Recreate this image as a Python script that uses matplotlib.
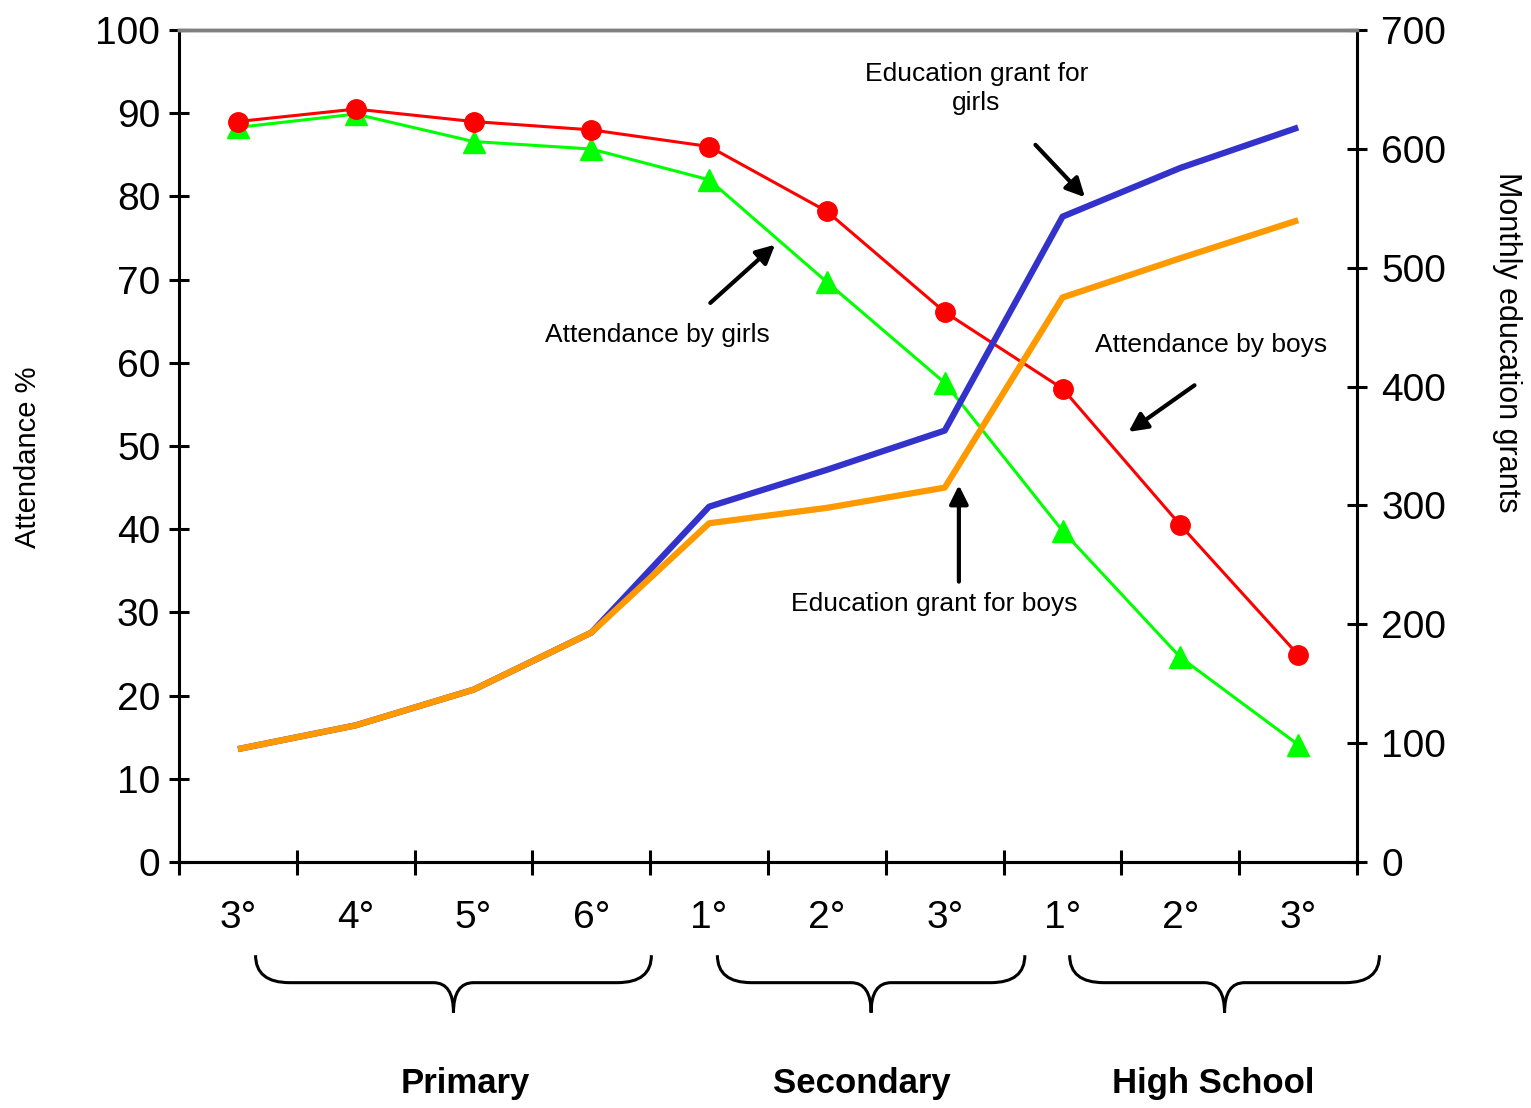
import matplotlib
matplotlib.use('Agg')
import matplotlib.pyplot as plt
from matplotlib.path import Path
from matplotlib.patches import PathPatch

plt.rcParams['font.family'] = ['Liberation Sans', 'DejaVu Sans']

# grades along the x axis and the school level they belong to
grades = ['3°', '4°', '5°', '6°', '1°', '2°', '3°', '1°', '2°', '3°']
levels = ['Primary', 'Secondary', 'High School']

# attendance (%) - left axis
boys_attendance = [89.0, 90.5, 89.0, 88.0, 86.0, 78.2, 66.1, 56.9, 40.5, 24.9]
girls_attendance = [88.3, 89.9, 86.6, 85.7, 82.0, 69.7, 57.6, 39.8, 24.6, 14.1]

# monthly education grants - right axis
girls_grant = [95, 115, 145, 193, 299, 330, 363, 543, 584, 618]
boys_grant = [95, 115, 145, 193, 285, 298, 315, 475, 508, 540]


def draw_brace(ax, x0, x1, y_top=-11.2, y_mid=-14.5, y_tip=-18.1, r=0.29, rt=0.17):
    '''Curly brace under the axis, drawn in data coordinates'''
    xc = (x0 + x1) / 2
    verts = [(x0, y_top), (x0, y_mid), (x0 + r, y_mid),
             (xc - rt, y_mid),
             (xc, y_mid), (xc, y_tip),
             (xc, y_mid), (xc + rt, y_mid),
             (x1 - r, y_mid),
             (x1, y_mid), (x1, y_top)]
    codes = [Path.MOVETO, Path.CURVE3, Path.CURVE3,
             Path.LINETO,
             Path.CURVE3, Path.CURVE3,
             Path.CURVE3, Path.CURVE3,
             Path.LINETO,
             Path.CURVE3, Path.CURVE3]
    ax.add_patch(PathPatch(Path(verts, codes), fill=False, lw=2.2,
                           edgecolor='black', clip_on=False))


fig = plt.figure(figsize=(15.31, 11.08), dpi=100)
ax = fig.add_axes([0.1169, 0.222, 0.7695, 0.7509])
ax2 = ax.twinx()

x = list(range(len(grades)))

ax.plot(x, girls_attendance, color='#00FF00', lw=2.2, marker='^', ms=16, zorder=2)
ax.plot(x, boys_attendance, color='#FF0000', lw=2.2, marker='o', ms=14, zorder=3)
ax2.plot(x, girls_grant, color='#3333CC', lw=4.5, solid_capstyle='butt')
ax2.plot(x, boys_grant, color='#FF9900', lw=4.5, solid_capstyle='butt')

ax.set_xlim(-0.5, len(grades) - 0.5)
ax.set_ylim(0, 100)
ax2.set_ylim(0, 700)

ax.set_yticks(range(0, 101, 10))
ax2.set_yticks(range(0, 701, 100))
ax.set_xticks([i - 0.5 for i in range(len(grades) + 1)])
ax.set_xticklabels([])
ax.set_xticks(x, minor=True)
ax.set_xticklabels(grades, minor=True)

ax.tick_params(axis='y', direction='inout', length=15, width=2.2, labelsize=28, pad=6)
ax2.tick_params(axis='y', direction='inout', length=15, width=2.2, labelsize=28, pad=10)
ax.tick_params(axis='x', which='major', direction='inout', length=18, width=2.2)
ax.tick_params(axis='x', which='minor', length=0, labelsize=28, pad=27)

for a in (ax, ax2):
    for side in ('left', 'right', 'bottom'):
        a.spines[side].set_linewidth(2.2)
    a.spines['top'].set_color('#808080')
    a.spines['top'].set_linewidth(2.5)
ax.spines['right'].set_visible(False)
ax2.spines['left'].set_visible(False)

fig.text(0.018, 0.587, 'Attendance %', rotation=90, fontsize=21, ha='center', va='center')
fig.text(0.984, 0.691, 'Monthly education grants', rotation=-90, fontsize=22,
         ha='center', va='center')

# annotations with arrows
arrow = dict(arrowstyle='-|>', color='black', lw=3, mutation_scale=28, shrinkA=0, shrinkB=0)
ax.text(6.27, 93.0, 'Education grant for\ngirls', fontsize=19, ha='center', va='center',
        linespacing=1.25)
ax.annotate('', xy=(7.19, 79.9), xytext=(6.77, 86.2), arrowprops=arrow)
ax.text(3.56, 63.3, 'Attendance by girls', fontsize=19, ha='center', va='center')
ax.annotate('', xy=(4.56, 74.2), xytext=(4.01, 67.2), arrowprops=arrow)
ax.text(8.26, 62.1, 'Attendance by boys', fontsize=19, ha='center', va='center')
ax.annotate('', xy=(7.56, 51.7), xytext=(8.12, 57.3), arrowprops=arrow)
ax.text(5.91, 31.0, 'Education grant for boys', fontsize=19, ha='center', va='center')
ax.annotate('', xy=(6.12, 45.3), xytext=(6.12, 33.7), arrowprops=arrow)

# braces and school level labels
brace_spans = [(0.15, 3.51), (4.07, 6.68), (7.06, 9.69)]
label_offsets = [0.1, -0.08, -0.1]
for (x0, x1), name, off in zip(brace_spans, levels, label_offsets):
    draw_brace(ax, x0, x1)
    ax.text((x0 + x1) / 2 + off, -26.6, name, fontsize=25, fontweight='bold',
            ha='center', va='center', clip_on=False)

fig.savefig('out.png', dpi=100)
